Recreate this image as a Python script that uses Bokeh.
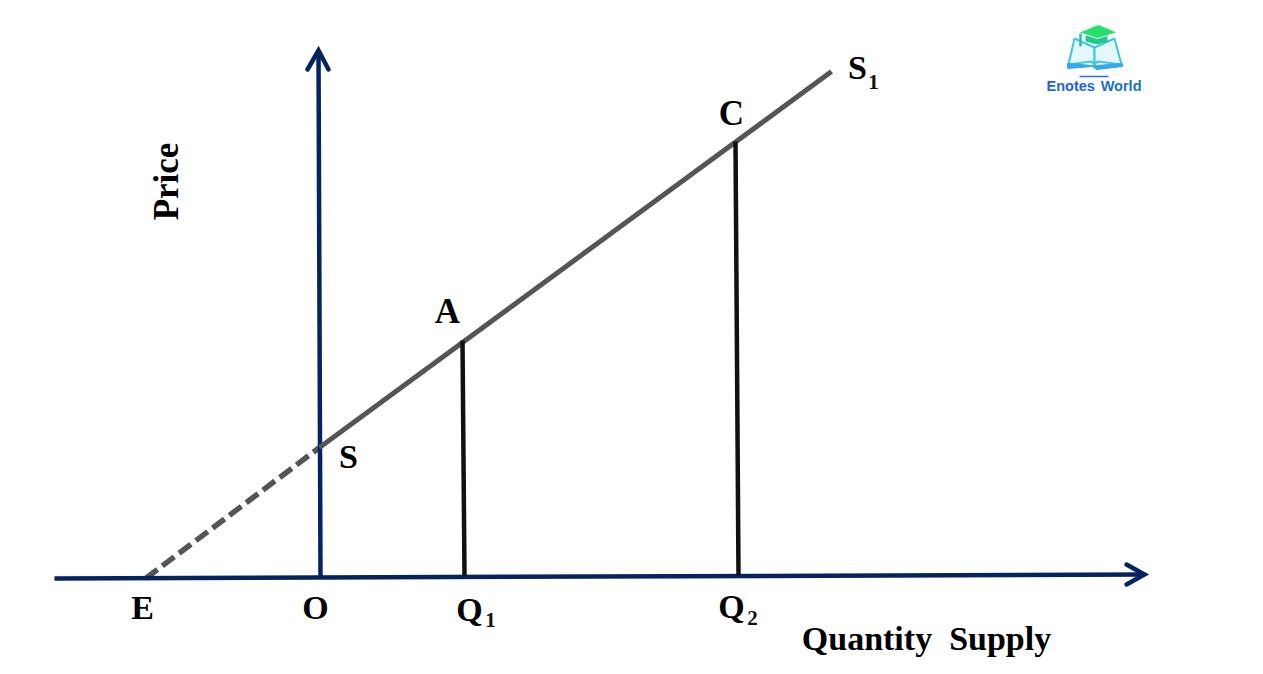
from bokeh.plotting import figure
from bokeh.embed import file_html
from bokeh.resources import INLINE
from bokeh.core.properties import value

NAVY = "#04235f"
GRAY = "#555555"
BLACK = "#111111"
SERIF = value("Liberation Serif")
SANS = value("Liberation Sans")

# diagram lines, in picture coordinates
x_axis_x = [54, 1143]
x_axis_y = [578, 574]
x_head_x = [1126, 1144, 1126]
x_head_y = [564, 574, 584]
y_axis_x = [318, 320]
y_axis_y = [50, 578]
y_head_x = [307, 318, 328]
y_head_y = [69, 50, 69]
supply_x = [319, 831]
supply_y = [447, 71]
extension_x = [145, 319]
extension_y = [578, 447]
drop_a_x = [462, 464]
drop_a_y = [340, 576]
drop_c_x = [735, 738]
drop_c_y = [141, 575]

# labels: text, x, y, size
labels = ["E", "O", "Q", "Q", "S", "A", "C", "S", "Quantity \u00a0Supply"]
label_x = [142, 315, 469, 731, 348, 447, 731, 857, 926]
label_y = [607, 607, 609, 606, 456, 311, 113, 67, 638]
label_size = ["34px", "34px", "34px", "34px", "34px", "35px", "35px", "34px", "34px"]
sub_text = ["1", "2", "1"]
sub_x = [490, 752, 873]
sub_y = [619, 617, 81]

# logo
cap_x = [1078, 1098, 1117, 1097]
cap_y = [32, 24, 32, 38]
cap_base_x = [1085, 1085, 1097, 1107, 1107]
cap_base_y = [35, 41, 44, 41, 35]
tassel_x = [1080, 1080]
tassel_y = [33, 46]
book_left_x = [1074, 1068, 1091, 1094, 1094, 1074]
book_left_y = [38, 64, 61, 64, 47, 38]
book_right_x = [1114, 1121, 1097, 1094, 1094, 1114]
book_right_y = [38, 64, 61, 64, 47, 38]
base_x = [1067, 1067, 1092, 1096, 1122, 1122, 1096, 1092]
base_y = [63, 68, 66, 69, 66, 63, 65, 65]
bar_x = [1079, 1108]
bar_y = [76, 76]

p = figure(width=1247, height=658, x_range=(0, 1247), y_range=(658, 0),
           output_backend="svg", toolbar_location=None, min_border=0)
p.axis.visible = False
p.grid.visible = False
p.outline_line_color = None
p.background_fill_color = "white"

p.line(extension_x, extension_y, line_color=GRAY, line_width=5.5, line_dash="15 6")
p.line(x_axis_x, x_axis_y, line_color=NAVY, line_width=4.5)
p.line(x_head_x, x_head_y, line_color=NAVY, line_width=4.5, line_cap="round", line_join="miter")
p.line(y_axis_x, y_axis_y, line_color=NAVY, line_width=4.5)
p.line(y_head_x, y_head_y, line_color=NAVY, line_width=4.5, line_cap="round", line_join="miter")
p.line(supply_x, supply_y, line_color=GRAY, line_width=5)
p.line(drop_a_x, drop_a_y, line_color=BLACK, line_width=4.5)
p.line(drop_c_x, drop_c_y, line_color=BLACK, line_width=4.5)

p.text(label_x, label_y, text=labels, text_font=SERIF, text_font_style="bold",
       text_font_size=label_size, text_align="center", text_baseline="middle",
       text_color="black")
p.text(sub_x, sub_y, text=sub_text, text_font=SERIF, text_font_style="bold",
       text_font_size="21px", text_align="center", text_baseline="middle",
       text_color="#111111")
p.text([166], [181], text=["Price"], angle=1.5708, text_font=SERIF, text_font_style="bold",
       text_font_size="35px", text_align="center", text_baseline="middle",
       text_color="black")

p.patch(book_left_x, book_left_y, fill_color="#e4f8fb", line_color="#3cc7e0", line_width=2)
p.patch(book_right_x, book_right_y, fill_color="#e4f8fb", line_color="#3cc7e0", line_width=2)
p.patch(base_x, base_y, fill_color="#35a8ec", line_color="#35a8ec", line_width=1)
p.patch(cap_base_x, cap_base_y, fill_color="#1fc98c", line_color=None)
p.patch(cap_x, cap_y, fill_color="#22e06a", line_color="white", line_width=1)
p.line(tassel_x, tassel_y, line_color="#25bfa5", line_width=2.5)
p.line(bar_x, bar_y, line_color="#2a6fe0", line_width=1.5)
p.text([1046], [85], text=["Enotes"], text_font=SANS, text_font_style="bold",
       text_font_size="14.5px", text_align="left", text_baseline="middle", text_color="#1c62e4")
p.text([1141], [85], text=["World"], text_font=SANS, text_font_style="bold",
       text_font_size="14.5px", text_align="right", text_baseline="middle", text_color="#1476bf")

open("out.html", "w").write(file_html(p, INLINE))
